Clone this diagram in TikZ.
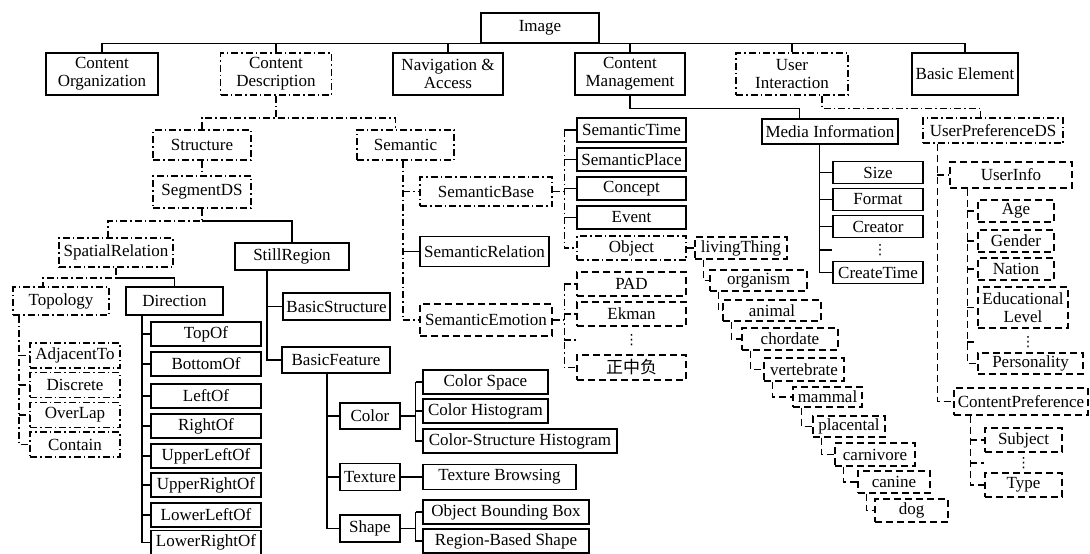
\documentclass[tikz,border=0pt]{standalone}
\usepackage{fontspec}
\setmainfont{Liberation Serif}
\newfontfamily\cjk{Noto Sans CJK SC}
\newfontfamily\symb{DejaVu Sans}
\begin{document}
\begin{tikzpicture}[x=1pt,y=-1pt,font=\fontsize{17}{18}\selectfont,
  bx/.style={draw,line width=1.3pt,inner sep=0pt,align=center},
  bxdd/.style={bx,dash pattern=on 7pt off 3pt on 1.5pt off 3pt},
  bxd/.style={bx,dash pattern=on 7pt off 4pt},
  vdot/.style={inner sep=0pt,font=\symb\fontsize{14}{14}\selectfont},
  ln/.style={line width=1.2pt},
  lndd/.style={ln,dash pattern=on 7pt off 3pt on 1.5pt off 3pt},
  lnd/.style={ln,dash pattern=on 7pt off 4pt}]
\useasboundingbox (0,0) rectangle (1090,554);

\node[bx,minimum width=118pt,minimum height=30pt] (img) at (540,28) {Image};

\node[bx,minimum width=112pt,minimum height=42pt] (corg) at (102,74) {Content\\Organization};
\node[bxdd,minimum width=111pt,minimum height=42pt] (cdesc) at (276,74) {Content\\Description};
\node[bx,minimum width=110pt,minimum height=42pt] (nav) at (448,74) {Navigation \&\\Access};
\node[bx,minimum width=110pt,minimum height=42pt] (cman) at (630,74) {Content\\Management};
\node[bxdd,minimum width=112pt,minimum height=42pt] (uint) at (792,74) {User\\Interaction};
\node[bx,minimum width=106pt,minimum height=42pt] (belem) at (965,74) {Basic Element};

\draw[ln] (corg.north) |- (img.south) -| (belem.north);
\draw[ln] (cdesc.north) -- (cdesc.north |- img.south);
\draw[ln] (nav.north) -- (nav.north |- img.south);
\draw[ln] (cman.north) -- (cman.north |- img.south);
\draw[ln] (uint.north) -- (uint.north |- img.south);

% content description
\node[bxdd,minimum width=98pt,minimum height=30pt] (struct) at (202,145) {Structure};
\node[bxdd,minimum width=97pt,minimum height=30pt] (sem) at (405.5,145) {Semantic};
\coordinate (cdbus) at (276,118);
\draw[lndd] (cdesc.south) -- (cdbus);
\draw[lndd] (struct.north) |- (cdbus) -| ([xshift=39pt]sem.north west);

\node[bxdd,minimum width=98pt,minimum height=32pt] (segds) at (202,192) {SegmentDS};
\draw[lndd] (struct.south) -- (segds.north);
\node[bxdd,minimum width=114pt,minimum height=29pt] (spat) at (116,252.5) {SpatialRelation};
\node[bx,minimum width=114pt,minimum height=27pt] (still) at (292,256.5) {StillRegion};
\coordinate (sgbus) at (202,221);
\draw[lndd] (segds.south) -- (sgbus) -| ([xshift=-8pt]spat.north);
\draw[ln] (sgbus) -| (still.north);

\node[bxdd,minimum width=96pt,minimum height=28pt] (topo) at (61,301) {Topology};
\node[bx,minimum width=97pt,minimum height=28pt] (dir) at (174.5,301) {Direction};
\coordinate (spbus) at (116,278);
\draw[lndd] (spat.south) -- (spbus) -| ([xshift=-18pt]topo.north);
\draw[ln] (spbus) -| (dir.north);

\node[bxdd,minimum width=90pt,minimum height=25pt] (adj) at (75,355.5) {AdjacentTo};
\node[bxdd,minimum width=90pt,minimum height=25pt] (disc) at (75,385) {Discrete};
\node[bxdd,minimum width=90pt,minimum height=25pt] (over) at (75,415) {OverLap};
\node[bxdd,minimum width=90pt,minimum height=25pt] (cont) at (75,444.5) {Contain};
\coordinate (ttr) at ([xshift=-42pt]topo.south);
\draw[lndd] (ttr) |- (cont.west);
\draw[lndd] (ttr |- adj) -- (adj.west);
\draw[lndd] (ttr |- disc) -- (disc.west);
\draw[lndd] (ttr |- over) -- (over.west);

\node[bx,minimum width=110pt,minimum height=24pt] (topof) at (206,334) {TopOf};
\node[bx,minimum width=110pt,minimum height=24pt] (botof) at (206,364) {BottomOf};
\node[bx,minimum width=110pt,minimum height=24pt] (lof) at (206,396) {LeftOf};
\node[bx,minimum width=110pt,minimum height=24pt] (rof) at (206,426) {RightOf};
\node[bx,minimum width=110pt,minimum height=24pt] (ulof) at (206,456) {UpperLeftOf};
\node[bx,minimum width=110pt,minimum height=24pt] (urof) at (206,485) {UpperRightOf};
\node[bx,minimum width=110pt,minimum height=24pt] (llof) at (206,515) {LowerLeftOf};
\node[bx,minimum width=110pt,minimum height=24pt] (lrof) at (206,542.5) {LowerRightOf};
\coordinate (dtr) at ([xshift=-32.5pt]dir.south);
\draw[ln] (dtr) |- (lrof.west);
\draw[ln] (dtr |- topof) -- (topof.west);
\draw[ln] (dtr |- botof) -- (botof.west);
\draw[ln] (dtr |- lof) -- (lof.west);
\draw[ln] (dtr |- rof) -- (rof.west);
\draw[ln] (dtr |- ulof) -- (ulof.west);
\draw[ln] (dtr |- urof) -- (urof.west);
\draw[ln] (dtr |- llof) -- (llof.west);

\node[bx,minimum width=107pt,minimum height=27pt] (bstruct) at (336.5,306.5) {BasicStructure};
\node[bx,minimum width=108pt,minimum height=26pt] (bfeat) at (336,360) {BasicFeature};
\coordinate (strr) at ([xshift=-25pt]still.south);
\draw[ln] (strr) |- (bfeat.west);
\draw[ln] (strr |- bstruct) -- (bstruct.west);

\node[bx,minimum width=60pt,minimum height=26pt] (color) at (370,416) {Color};
\node[bx,minimum width=60pt,minimum height=27pt] (texture) at (370,477) {Texture};
\node[bx,minimum width=60pt,minimum height=27pt] (shape) at (370,528.5) {Shape};
\coordinate (bftr) at ([xshift=-9pt]bfeat.south);
\draw[ln] (bftr) |- (shape.west);
\draw[ln] (bftr |- color) -- (color.west);
\draw[ln] (bftr |- texture) -- (texture.west);

\node[bx,minimum width=125pt,minimum height=24pt] (cspace) at (485.5,382) {Color Space};
\node[bx,minimum width=125pt,minimum height=24pt] (chist) at (485.5,411) {Color Histogram};
\node[bx,minimum width=194pt,minimum height=24pt] (cshist) at (520,441) {Color-Structure Histogram};
\node[bx,minimum width=153pt,minimum height=25pt] (tbrowse) at (499.5,477) {Texture Browsing};
\node[bx,minimum width=166pt,minimum height=24pt] (obbox) at (506,512) {Object Bounding Box};
\node[bx,minimum width=166pt,minimum height=24pt] (rbshape) at (506,541) {Region-Based Shape};
\coordinate (ctr) at ([xshift=15pt]color.east);
\draw[ln] (color.east) -- (ctr);
\draw[ln] (ctr |- cspace) |- (cshist.west);
\draw[ln] (ctr |- cspace) -- (cspace.west);
\draw[ln] (ctr |- chist) -- (chist.west);
\draw[ln] (texture.east) -- (tbrowse.west);
\coordinate (shtr) at ([xshift=15pt]shape.east);
\draw[ln] (shape.east) -- (shtr);
\draw[ln] (shtr |- obbox) |- (rbshape.west);
\draw[ln] (shtr |- obbox) -- (obbox.west);

% semantic
\node[bxdd,minimum width=132pt,minimum height=29pt] (sbase) at (486,191.5) {SemanticBase};
\node[bx,minimum width=129pt,minimum height=30pt] (srel) at (484.5,251.5) {SemanticRelation};
\node[bxd,minimum width=132pt,minimum height=32pt] (semo) at (486,320) {SemanticEmotion};
\coordinate (smtr) at ([xshift=-2.5pt]sem.south);
\draw[lndd] (smtr) |- (semo.west);
\draw[lndd] (smtr |- sbase) -- (sbase.west);
\draw[ln] (smtr |- srel) -- (srel.west);

\node[bx,minimum width=109pt,minimum height=24pt] (stime) at (631.5,130) {SemanticTime};
\node[bx,minimum width=109pt,minimum height=23pt] (splace) at (631.5,159.5) {SemanticPlace};
\node[bx,minimum width=109pt,minimum height=23pt] (concept) at (631.5,188.5) {Concept};
\node[bx,minimum width=109pt,minimum height=23pt] (event) at (631.5,217.5) {Event};
\node[bxdd,minimum width=109pt,minimum height=24pt] (object) at (631.5,248) {Object};
\coordinate (sbtr) at ([xshift=-12pt]stime.west);
\draw[lndd] (sbase.east) -- (sbase.east -| sbtr);
\draw[lndd] (sbtr) |- (object.west);
\draw[ln] (sbtr) -- (stime.west);
\draw[ln] (sbtr |- splace) -- (splace.west);
\draw[ln] (sbtr |- concept) -- (concept.west);
\draw[ln] (sbtr |- event) -- (event.west);

\node[bxd,minimum width=109pt,minimum height=24pt] (pad) at (631.5,284) {PAD};
\node[bxd,minimum width=109pt,minimum height=24pt] (ekman) at (631.5,314) {Ekman};
\node[vdot] (edots) at (631.5,340) {⋮};
\node[bxd,minimum width=109pt,minimum height=25pt] (zhong) at (631.5,367.5) {\cjk 正中负};
\coordinate (setr) at ([xshift=-12pt]pad.west);
\draw[lndd] (semo.east) -- (semo.east -| setr);
\draw[lndd] (setr) |- (zhong.west);
\draw[lndd] (setr) -- (pad.west);
\draw[lndd] (setr |- ekman) -- (ekman.west);
\draw[lndd] (setr |- edots) -- (pad.west |- edots);

% object chain
\node[bxd,minimum width=92pt,minimum height=22pt] (living) at (741,248) {livingThing};
\node[bxd,minimum width=97pt,minimum height=21pt] (organism) at (758.5,280.5) {organism};
\node[bxd,minimum width=98pt,minimum height=21pt] (animal) at (772,310.5) {animal};
\node[bxd,minimum width=96pt,minimum height=22pt] (chordate) at (790,339) {chordate};
\node[bxd,minimum width=80pt,minimum height=23pt] (vertebrate) at (804,369.5) {vertebrate};
\node[bxd,minimum width=69pt,minimum height=20pt] (mammal) at (827.5,397) {mammal};
\node[bxd,minimum width=72pt,minimum height=21pt] (placental) at (849,426.5) {placental};
\node[bxd,minimum width=80pt,minimum height=23pt] (carnivore) at (875,454.5) {carnivore};
\node[bxd,minimum width=72pt,minimum height=22pt] (canine) at (894,482) {canine};
\node[bxd,minimum width=73pt,minimum height=23pt] (dog) at (911.5,510.5) {dog};
\draw[lnd] (object.east) -- (living.west);
\draw[lnd] ([xshift=9pt]living.south west) |- (organism.west);
\draw[lnd] ([xshift=9pt]organism.south west) |- (animal.west);
\draw[lnd] ([xshift=9pt]animal.south west) |- (chordate.west);
\draw[lnd] ([xshift=9pt]chordate.south west) |- (vertebrate.west);
\draw[lnd] ([xshift=9pt]vertebrate.south west) |- (mammal.west);
\draw[lnd] ([xshift=9pt]mammal.south west) |- (placental.west);
\draw[lnd] ([xshift=9pt]placental.south west) |- (carnivore.west);
\draw[lnd] ([xshift=9pt]carnivore.south west) |- (canine.west);
\draw[lnd] ([xshift=9pt]canine.south west) |- (dog.west);

% content management
\node[bx,minimum width=136pt,minimum height=25pt] (mi) at (830,131.5) {Media Information};
\draw[ln] (cman.south) -- ++(0,13) -| ([xshift=38pt]mi.north west);
\node[bx,minimum width=90pt,minimum height=22pt] (size) at (878,172.5) {Size};
\node[bx,minimum width=90pt,minimum height=22pt] (format) at (878,199.5) {Format};
\node[bx,minimum width=90pt,minimum height=22pt] (creator) at (878,226.5) {Creator};
\node[vdot] (mdots) at (880,250) {⋮};
\node[bx,minimum width=90pt,minimum height=22pt] (ctime) at (878,272.5) {CreateTime};
\coordinate (mitr) at ([xshift=58pt]mi.south west);
\draw[ln] (mitr) |- (ctime.west);
\draw[ln] (mitr |- size) -- (size.west);
\draw[ln] (mitr |- format) -- (format.west);
\draw[ln] (mitr |- creator) -- (creator.west);
\draw[ln] (mitr |- mdots) -- (size.west |- mdots);

% user interaction
\node[bxdd,minimum width=140pt,minimum height=25pt] (upds) at (993,130.5) {UserPreferenceDS};
\draw[lndd] ([xshift=30pt]uint.south) -- ++(0,13) -| ([xshift=58pt]upds.north west);
\node[bxd,minimum width=122pt,minimum height=26pt] (uinfo) at (1011,175) {UserInfo};
\node[bxd,minimum width=134pt,minimum height=27pt] (cpref) at (1021,401.5) {ContentPreference};
\coordinate (uptr) at ([xshift=15pt]upds.south west);
\draw[lnd] (uptr) |- (cpref.west);
\draw[lnd] (uptr |- uinfo) -- (uinfo.west);

\node[bxd,minimum width=76pt,minimum height=22pt] (age) at (1016,211) {Age};
\node[bxd,minimum width=76pt,minimum height=22pt] (gender) at (1016,241) {Gender};
\node[bxd,minimum width=76pt,minimum height=22pt] (nation) at (1016,269) {Nation};
\node[bxd,minimum width=90pt,minimum height=41pt] (edu) at (1023,307.5) {Educational\\Level};
\node[vdot] (udots) at (1028,342) {⋮};
\node[bxd,minimum width=105pt,minimum height=21pt] (pers) at (1030.5,363.5) {Personality};
\coordinate (uitr) at ([xshift=18pt]uinfo.south west);
\draw[lnd] (uitr) |- (pers.west);
\draw[lnd] (uitr |- age) -- (age.west);
\draw[lnd] (uitr |- gender) -- (gender.west);
\draw[lnd] (uitr |- nation) -- (nation.west);
\draw[lnd] (uitr |- edu) -- (edu.west);
\draw[lnd] (uitr |- udots) -- (age.west |- udots);

\node[bxd,minimum width=77pt,minimum height=24pt] (subject) at (1023.5,440) {Subject};
\node[vdot] (cpdots) at (1023.5,463) {⋮};
\node[bxd,minimum width=77pt,minimum height=24pt] (type) at (1023.5,485) {Type};
\coordinate (cptr) at ([xshift=17pt]cpref.south west);
\draw[lnd] (cptr) |- (type.west);
\draw[lnd] (cptr |- subject) -- (subject.west);
\draw[lnd] (cptr |- cpdots) -- (subject.west |- cpdots);

\end{tikzpicture}
\end{document}
